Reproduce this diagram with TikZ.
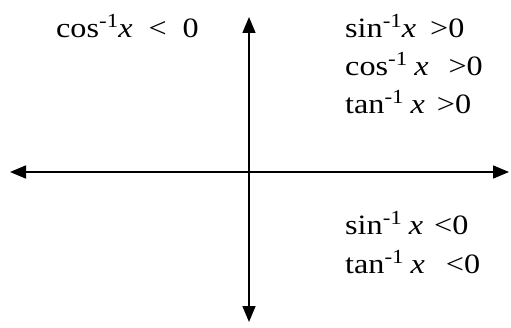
\documentclass[tikz,border=0pt]{standalone}
\usepackage{fontspec}
\setmainfont{Liberation Serif}[FakeStretch=1.15]
\usetikzlibrary{arrows.meta}

\newcommand{\inv}{\raisebox{10pt}{\fontsize{20}{22}\selectfont -1}}

\tikzset{
  axis/.style={line width=1.6pt, {Triangle[length=16pt,width=13pt]}-{Triangle[length=16pt,width=13pt]}},
  cond/.style={anchor=base west, inner sep=0pt, font=\fontsize{28}{32}\selectfont}
}

\begin{document}
\begin{tikzpicture}[x=1pt,y=1pt]
  \useasboundingbox (0,0) rectangle (511,327);

  % axes
  \coordinate (west) at (10,155);
  \coordinate (east) at (509,155);
  \coordinate (north) at (249,310);
  \coordinate (south) at (249,5);
  \draw[axis] (west) -- (east);
  \draw[axis] (south) -- (north);

  % signs in each quadrant
  \node[cond] (cosneg) at (56,289) {cos\inv\textit{x}\hspace{16pt}<\hspace{16pt}0};
  \node[cond] (sinpos) at (345,289) {sin\inv\textit{x}\hspace{14pt}>0};
  \node[cond] (cospos) at (345,251) {cos\inv\hspace{7pt}\textit{x}\hspace{20pt}>0};
  \node[cond] (tanpos) at (345,213) {tan\inv\hspace{7pt}\textit{x}\hspace{12pt}>0};
  \node[cond] (sinneg) at (345,93) {sin\inv\hspace{7pt}\textit{x}\hspace{11pt}<0};
  \node[cond] (tanneg) at (345,54) {tan\inv\hspace{7pt}\textit{x}\hspace{21pt}<0};
\end{tikzpicture}
\end{document}
